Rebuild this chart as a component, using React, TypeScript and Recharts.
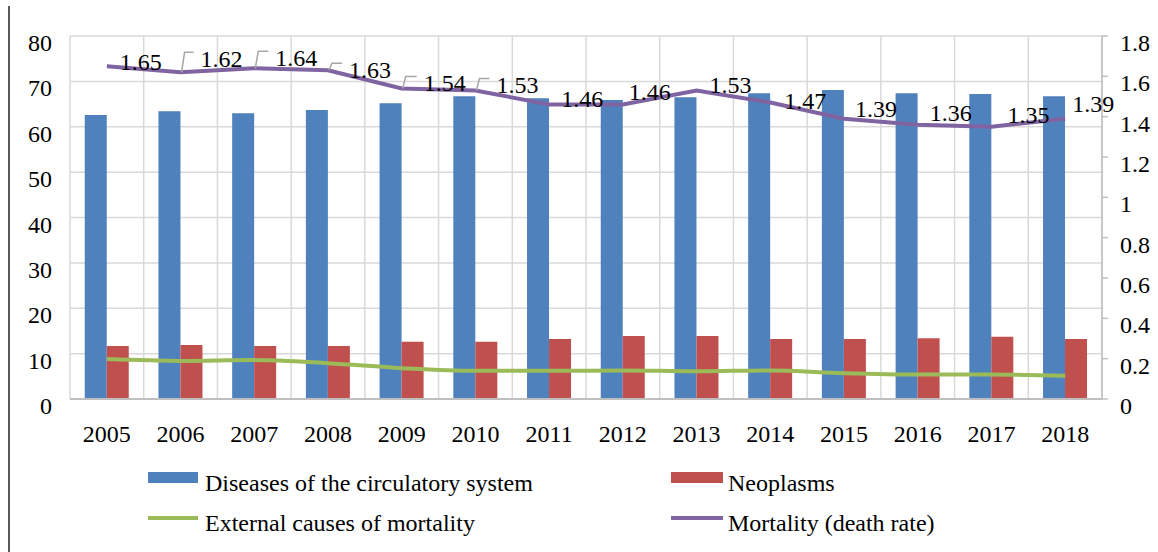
import React from 'react';
import { ComposedChart, Bar, Line, XAxis, YAxis, CartesianGrid, Legend, LabelList } from 'recharts';

const YEARS = ['2005', '2006', '2007', '2008', '2009', '2010', '2011', '2012', '2013', '2014', '2015', '2016', '2017', '2018'];
const CIRCULATORY = [62.6, 63.4, 63.0, 63.7, 65.2, 66.7, 66.3, 65.9, 66.5, 67.4, 68.1, 67.4, 67.2, 66.7];
const NEOPLASMS = [11.7, 11.9, 11.7, 11.7, 12.6, 12.6, 13.2, 13.9, 13.9, 13.2, 13.2, 13.4, 13.7, 13.2];
const EXTERNAL = [8.8, 8.4, 8.6, 7.9, 6.8, 6.2, 6.2, 6.3, 6.1, 6.3, 5.7, 5.4, 5.4, 5.1];
const MORTALITY = [1.65, 1.62, 1.64, 1.63, 1.54, 1.53, 1.46, 1.46, 1.53, 1.47, 1.39, 1.36, 1.35, 1.39];
const LEFT_TICKS = [0, 10, 20, 30, 40, 50, 60, 70, 80];
const RIGHT_TICKS = [0, 0.2, 0.4, 0.6, 0.8, 1, 1.2, 1.4, 1.6, 1.8];

const SERIES_NAMES = {
  circulatory: 'Diseases of the circulatory system',
  neoplasms: 'Neoplasms',
  external: 'External causes of mortality',
  mortality: 'Mortality (death rate)',
};

// label placement (text left / baseline relative to the point)
const LABEL_DX = [13, 20, 21, 21, 22, 21, 12, 6, 13, 14, 11, 12, 16, 7];
const LABEL_DY = [4, -5, -2, 8, 3, 3, 2, -5, 3, 6, -2, -4, -4, -7];
const LABEL_LEADER = [false, true, true, true, true, true, false, false, false, false, false, false, false, false];

const data = YEARS.map((year, i) => ({
  year,
  circulatory: CIRCULATORY[i],
  neoplasms: NEOPLASMS[i],
  external: EXTERNAL[i],
  mortality: MORTALITY[i],
}));

const FONT = "'Liberation Serif', 'Times New Roman', serif";
const BLUE = '#4F81BD';
const RED = '#C0504D';
const GREEN = '#9BBB59';
const PURPLE = '#8064A2';

const textStyleSvg: React.CSSProperties = { fontFamily: FONT, fontSize: 24 };

const LeftTick = (props: any) => {
  const { x, y, payload } = props;
  return (
    <text x={x} y={y + 15} textAnchor="end" style={textStyleSvg} fill="#000">
      {String(payload.value)}
    </text>
  );
};

const RightTick = (props: any) => {
  const { x, y, payload } = props;
  return (
    <text x={x} y={y + 15} textAnchor="start" style={textStyleSvg} fill="#000">
      {String(payload.value)}
    </text>
  );
};

const XTick = (props: any) => {
  const { x, y, payload } = props;
  return (
    <text x={x} y={y + 43} textAnchor="middle" style={textStyleSvg} fill="#000">
      {payload.value}
    </text>
  );
};

const MortalityLabel = (props: any) => {
  const { x, y, value, index } = props;
  const tx = x + LABEL_DX[index];
  const ty = y + LABEL_DY[index];
  return (
    <g>
      {LABEL_LEADER[index] && (
        <path
          d={`M${x + 1},${y} L${x + 4},${ty - 15} L${tx - 7},${ty - 15}`}
          fill="none"
          stroke="#A6A6A6"
          strokeWidth={1.5}
        />
      )}
      <text x={tx} y={ty} style={textStyleSvg} fill="#000">
        {String(value)}
      </text>
    </g>
  );
};

const LegendContent = () => {
  const textStyle: React.CSSProperties = {
    position: 'absolute',
    fontFamily: FONT,
    fontSize: 24,
    lineHeight: '24px',
    color: '#000',
    whiteSpace: 'nowrap',
  };
  return (
    <div style={{ position: 'relative', width: 1158, height: 103 }}>
      <div style={{ position: 'absolute', left: 148, top: 23, width: 50, height: 11, background: BLUE }} />
      <div style={{ ...textStyle, left: 205, top: 22 }}>{SERIES_NAMES.circulatory}</div>
      <div style={{ position: 'absolute', left: 671, top: 23, width: 52, height: 11, background: RED }} />
      <div style={{ ...textStyle, left: 728, top: 22 }}>{SERIES_NAMES.neoplasms}</div>
      <div style={{ position: 'absolute', left: 148, top: 67, width: 50, height: 4, background: GREEN }} />
      <div style={{ ...textStyle, left: 205, top: 62 }}>{SERIES_NAMES.external}</div>
      <div style={{ position: 'absolute', left: 671, top: 67, width: 52, height: 4, background: PURPLE }} />
      <div style={{ ...textStyle, left: 728, top: 62 }}>{SERIES_NAMES.mortality}</div>
    </div>
  );
};

const verticalGen = (props: any) => {
  const off = props.offset || { left: 70, width: 1032 };
  const n = YEARS.length;
  return Array.from({ length: n + 1 }, (_, i) => off.left + (i * off.width) / n);
};

export default function App() {
  return (
    <div style={{ position: 'absolute', left: 0, top: 0, width: 1158, height: 552, background: '#fff', fontFamily: FONT }}>
      <div style={{ position: 'absolute', left: 8, top: 6, width: 2, height: 546, background: '#595959' }} />
      <ComposedChart
        width={1158}
        height={552}
        data={data}
        margin={{ top: 36, right: 0, bottom: 0, left: 10 }}
        barCategoryGap="20%"
        barGap={0}
        style={{ fontFamily: FONT }}
      >
        <CartesianGrid
          yAxisId="left"
          stroke="#D9D9D9"
          strokeWidth={1.5}
          verticalCoordinatesGenerator={verticalGen}
        />
        <XAxis
          dataKey="year"
          height={50}
          tickSize={0}
          tickMargin={0}
          tick={<XTick />}
          axisLine={{ stroke: '#BFBFBF', strokeWidth: 2 }}
          tickLine={false}
          interval={0}
        />
        <YAxis
          yAxisId="left"
          domain={[0, 80]}
          ticks={LEFT_TICKS}
          width={60}
          tickSize={0}
          tickMargin={18}
          axisLine={false}
          tickLine={false}
          tick={<LeftTick />}
        />
        <YAxis
          yAxisId="right"
          orientation="right"
          domain={[0, 1.8]}
          ticks={RIGHT_TICKS}
          width={56}
          tickSize={6}
          tickMargin={12}
          axisLine={{ stroke: '#BFBFBF', strokeWidth: 1.5 }}
          tickLine={{ stroke: '#BFBFBF', strokeWidth: 1.5 }}
          tick={<RightTick />}
        />
        <Legend
          verticalAlign="bottom"
          content={<LegendContent />}
          wrapperStyle={{ left: 0, bottom: 0, width: 1158, height: 103 }}
        />
        <Bar yAxisId="left" dataKey="circulatory" name={SERIES_NAMES.circulatory} fill={BLUE} isAnimationActive={false} />
        <Bar yAxisId="left" dataKey="neoplasms" name={SERIES_NAMES.neoplasms} fill={RED} isAnimationActive={false} />
        <Line
          yAxisId="left"
          type="monotone"
          dataKey="external"
          name={SERIES_NAMES.external}
          stroke={GREEN}
          strokeWidth={4}
          dot={false}
          isAnimationActive={false}
        />
        <Line
          yAxisId="right"
          type="linear"
          dataKey="mortality"
          name={SERIES_NAMES.mortality}
          stroke={PURPLE}
          strokeWidth={4}
          dot={false}
          isAnimationActive={false}
        >
          <LabelList dataKey="mortality" content={<MortalityLabel />} />
        </Line>
      </ComposedChart>
    </div>
  );
}
